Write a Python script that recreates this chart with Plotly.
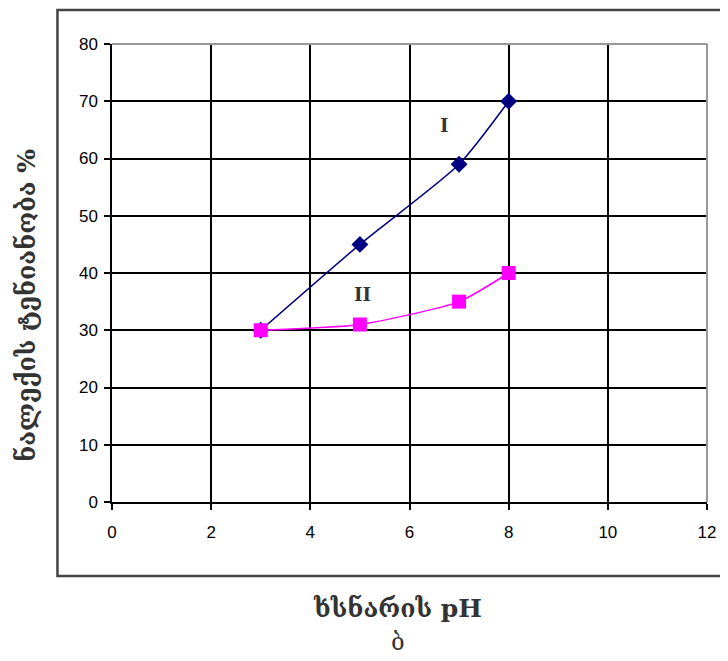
import plotly.graph_objects as go

ph = [3, 5, 7, 8]
series_I = [30, 45, 59, 70]
series_II = [30, 31, 35, 40]
x_ticks = [0, 2, 4, 6, 8, 10, 12]
y_ticks = [0, 10, 20, 30, 40, 50, 60, 70, 80]

fig = go.Figure()
fig.add_trace(go.Scatter(
    x=ph, y=series_I, mode="lines+markers", name="I",
    line=dict(color="#000080", width=1.5, shape="spline", smoothing=0.6),
    marker=dict(symbol="diamond", size=13, color="#000080"),
))
fig.add_trace(go.Scatter(
    x=ph, y=series_II, mode="lines+markers", name="II",
    line=dict(color="#FF00FF", width=1.5, shape="spline", smoothing=0.6),
    marker=dict(symbol="square", size=14, color="#FF00FF"),
))

axis_font = dict(family="Liberation Sans, Arial, sans-serif", size=17, color="black")
fig.update_xaxes(
    range=[0, 12], tickvals=x_ticks, showgrid=True, gridcolor="black", gridwidth=1.5,
    showline=True, linecolor="black", linewidth=1.5, ticks="outside", ticklen=6,
    tickcolor="black", tickwidth=1.5, tickfont=axis_font, ticklabelstandoff=8,
    zeroline=False,
)
fig.update_yaxes(
    range=[0, 80], tickvals=y_ticks, showgrid=True, gridcolor="black", gridwidth=1.5,
    showline=True, linecolor="black", linewidth=1.5, ticks="outside", ticklen=6,
    tickcolor="black", tickwidth=1.5, tickfont=axis_font, ticklabelstandoff=3,
    zeroline=False,
)

# page body adds an 8px offset, so the figure origin is at (8, 8)
OX, OY = 8, 8
L, T, W, H = 112 - OX, 44 - OY, 600, 458
def px(xp):
    return (xp - OX - L) / W
def py(yp):
    return (T + H - (yp - OY)) / H

title_font = dict(family="DejaVu Serif, serif", size=25, color="#333333")
fig.update_layout(
    width=720, height=653,
    margin=dict(l=L, r=720 - L - W, t=T, b=653 - T - H),
    paper_bgcolor="white", plot_bgcolor="white",
    showlegend=False,
    shapes=[
        dict(type="line", xref="paper", yref="paper", x0=0, x1=1, y0=1, y1=1,
             line=dict(color="#999999", width=2), layer="above"),
        dict(type="line", xref="paper", yref="paper", x0=1, x1=1, y0=0, y1=1,
             line=dict(color="#999999", width=2), layer="above"),
        dict(type="rect", xref="paper", yref="paper", x0=px(57), x1=px(740),
             y0=py(576), y1=py(10), line=dict(color="#444444", width=2.5), layer="below"),
    ],
    annotations=[
        dict(text="<b>ნალექის ტენიანობა %</b>", xref="paper", yref="paper",
             x=px(25), y=py(305), textangle=-90, showarrow=False,
             font=title_font, xanchor="center", yanchor="middle"),
        dict(text="<b>ხსნარის pH</b>", xref="paper", yref="paper",
             x=px(400), y=py(608), showarrow=False,
             font=title_font, xanchor="center", yanchor="middle"),
        dict(text="ბ", xref="paper", yref="paper",
             x=px(400), y=py(642), showarrow=False,
             font=dict(family="DejaVu Serif, serif", size=24, color="#333333"),
             xanchor="center", yanchor="middle"),
        dict(text="<b>I</b>", x=6.7, y=66, showarrow=False,
             font=dict(family="Liberation Serif, serif", size=22, color="#333333")),
        dict(text="<b>II</b>", x=5.05, y=36.5, showarrow=False,
             font=dict(family="Liberation Serif, serif", size=22, color="#333333")),
    ],
)

fig.write_html("out.html")
